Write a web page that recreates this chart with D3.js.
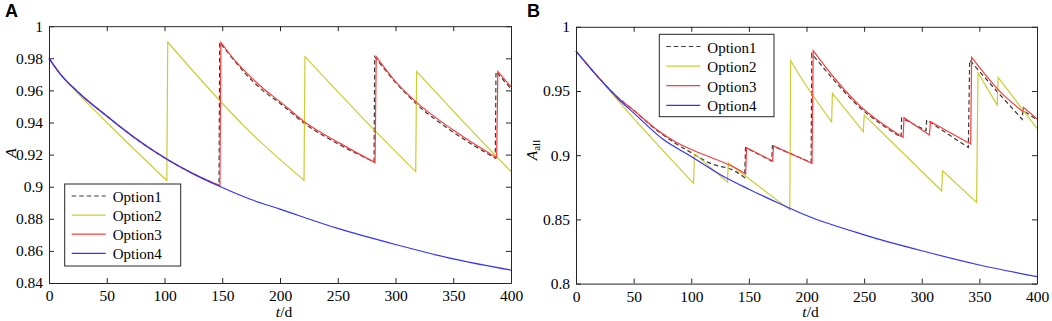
<!DOCTYPE html>
<html>
<head>
<meta charset="utf-8">
<script src="https://cdn.jsdelivr.net/npm/d3@7"></script>
<style>
  body { margin: 0; background: #fff; }
  svg { display: block; }
</style>
</head>
<body>
<script>
// x ticks (days) and y ticks for both panels
var xTicks = [0, 50, 100, 150, 200, 250, 300, 350, 400];
var yTicksA = [0.84, 0.86, 0.88, 0.9, 0.92, 0.94, 0.96, 0.98, 1];
var yTicksB = [0.8, 0.85, 0.9, 0.95, 1];
var seriesNames = ["Option1", "Option2", "Option3", "Option4"];
var seriesColors = ["#3a3a3a", "#cccc33", "#ff3b3b", "#3333ff"];

// panel A, values as [t, A]
var optA4 = [[0,0.980],[10,0.970],[25,0.959],[50,0.944],[75,0.930],[100,0.918],[125,0.908],[150,0.8995],
             [175,0.892],[200,0.886],[250,0.874],[300,0.864],[350,0.855],[400,0.848]];
var optA2 = [[0,0.980],[10,0.970],[20,0.962],[60,0.933],[102,0.9038],[102.8,0.990],[150,0.952],[170,0.937],
             [220.8,0.904],[221.6,0.981],[270,0.944],[317.5,0.9094],[318.3,0.9717],[360,0.9395],[400,0.9094]];
var optA3 = [[0,0.980],[10,0.970],[25,0.959],[50,0.944],[75,0.930],[100,0.918],[125,0.908],[148,0.9006],
             [148.8,0.990],[160,0.9795],[170,0.9717],[185,0.9615],[200,0.953],[221,0.9405],[252,0.927],
             [282.3,0.915],[283.3,0.981],[300,0.9655],[317.5,0.953],[350,0.9353],[387.6,0.918],
             [388.6,0.9717],[400,0.9623]];
var optA1 = [[0,0.980],[10,0.970],[25,0.959],[50,0.944],[75,0.930],[100,0.918],[125,0.908],[147.2,0.9008],
             [147.8,0.990],[160,0.979],[170,0.9705],[185,0.960],[200,0.952],[221,0.9395],[252,0.926],
             [281.4,0.9155],[282,0.981],[300,0.965],[317.5,0.952],[350,0.934],[386.4,0.9178],
             [387,0.9717],[400,0.961]];

// panel B, values as [t, A_all]
var optB4 = [[0,0.981],[20,0.960],[37.6,0.943],[50,0.933],[75,0.9128],[100,0.899],[125,0.885],[150,0.8735],
             [175,0.863],[200,0.853],[250,0.838],[300,0.8256],[350,0.8145],[400,0.8054]];
var optB2 = [[0,0.981],[20,0.960],[35,0.944],[102,0.8781],[102.8,0.901],[131.4,0.8792],
             [132.2,0.894],[185.5,0.8574],[186.3,0.9736],[194.4,0.9617],[221.8,0.926],[222.5,0.9482],
             [249.3,0.9183],[250.1,0.9313],[317.3,0.8723],[318.1,0.8879],[347.6,0.8632],[348.8,0.9642],
             [365.5,0.939],[366.3,0.9606],[400,0.9209]];
var optB3 = [[0,0.981],[20,0.960],[37.6,0.944],[50,0.935],[70,0.920],[85,0.911],[104,0.9029],[115.7,0.8988],
             [138.8,0.8898],[147.2,0.8854],[148,0.9059],[170.6,0.8954],[171.4,0.9072],[204.8,0.8936],[205.8,0.9814],
             [223.3,0.9611],[246.4,0.9383],[265,0.925],[283.8,0.9139],[284.6,0.9292],[306.6,0.9158],
             [307.6,0.9261],[342.4,0.9087],[343.3,0.9762],[368,0.9495],[387.6,0.934],[388.4,0.9373],
             [400,0.9282]];
var optB1 = [[0,0.981],[20,0.960],[37.6,0.944],[50,0.935],[70,0.9195],[85,0.910],[100,0.902],[115.7,0.894],
             [138.8,0.8872],[146.3,0.8826],[147.1,0.9059],[169.8,0.8954],[170.4,0.9073],[204,0.8944],[204.6,0.979],
             [223.3,0.959],[246.4,0.937],[265,0.924],[282,0.914],[282.6,0.929],[303.7,0.9191],
             [304.3,0.9274],[340.4,0.906],[341.6,0.974],[368,0.947],[387.2,0.928],[387.8,0.935],
             [400,0.9274]];

var W = 1052, H = 321;
var serif = "Liberation Serif";

var svg = d3.select("body").append("svg")
    .attr("width", W)
    .attr("height", H);

function drawPanel(opt) {
  var x = d3.scaleLinear().domain([0, 400]).range([opt.left, opt.right]);
  var y = d3.scaleLinear().domain(opt.yDomain).range([opt.bottom, opt.top]);
  var g = svg.append("g");

  var line = d3.line()
      .x(function(d) { return x(d[0]); })
      .y(function(d) { return y(d[1]); })
      .curve(d3.curveMonotoneX);

  // split at the jumps so the smooth curve keeps sharp peaks
  function seriesPath(pts) {
    var pieces = [], cur = [pts[0]];
    for (var i = 1; i < pts.length; i++) {
      if (pts[i][0] - pts[i - 1][0] < 1.5) { pieces.push(cur); cur = [pts[i]]; }
      else cur.push(pts[i]);
    }
    pieces.push(cur);
    return pieces.map(function(p, i) {
      var d = line(p);
      return i ? "L" + d.slice(1) : d;
    }).join("");
  }

  opt.series.forEach(function(s, i) {
    g.append("path")
      .attr("d", seriesPath(s))
      .attr("fill", "none")
      .attr("stroke", seriesColors[i])
      .attr("stroke-width", 1.2)
      .attr("stroke-dasharray", i === 0 ? "4.5,3" : null);
  });

  // axes, ticks pointing inwards on all four sides
  var fmt = function(d) { return String(+d.toFixed(2)); };
  var ax = [
    [d3.axisBottom(x).tickValues(xTicks).tickFormat(fmt).tickPadding(7), "translate(0," + opt.bottom + ")"],
    [d3.axisTop(x).tickValues(xTicks).tickFormat(""), "translate(0," + opt.top + ")"],
    [d3.axisLeft(y).tickValues(opt.yTicks).tickFormat(fmt).tickPadding(6), "translate(" + opt.left + ",0)"],
    [d3.axisRight(y).tickValues(opt.yTicks).tickFormat(""), "translate(" + opt.right + ",0)"]
  ];
  ax.forEach(function(a) {
    var ag = g.append("g")
        .attr("transform", a[1])
        .call(a[0].tickSizeInner(-5).tickSizeOuter(0));
    ag.attr("font-family", serif).attr("font-size", 15.5);
    ag.select(".domain").attr("stroke", "#262626");
    ag.selectAll(".tick line").attr("stroke", "#262626");
    ag.selectAll("text")
      .attr("font-family", serif)
      .attr("font-size", 15.5)
      .attr("fill", "#000");
  });

  // legend
  var lg = g.append("g");
  lg.append("rect")
    .attr("x", opt.legend.x).attr("y", opt.legend.y)
    .attr("width", opt.legend.w).attr("height", opt.legend.h)
    .attr("fill", "#fff")
    .attr("stroke", "#262626");
  seriesNames.forEach(function(name, i) {
    var ly = opt.legend.y0 + i * opt.legend.step;
    lg.append("line")
      .attr("x1", opt.legend.x + 7).attr("x2", opt.legend.x + 41)
      .attr("y1", ly).attr("y2", ly)
      .attr("stroke", seriesColors[i])
      .attr("stroke-width", 1.2)
      .attr("stroke-dasharray", i === 0 ? "4.5,3" : null);
    lg.append("text")
      .attr("x", opt.legend.x + 48)
      .attr("y", ly + 6)
      .attr("font-family", serif)
      .attr("font-size", 15)
      .text(name);
  });

  // x label t/d
  var xl = g.append("text")
      .attr("x", (opt.left + opt.right) / 2 + 4)
      .attr("y", 317)
      .attr("text-anchor", "middle")
      .attr("font-family", serif)
      .attr("font-size", 15.5);
  xl.append("tspan").attr("font-style", "italic").text("t");
  xl.append("tspan").text("/d");

  // y label
  var yl = g.append("text")
      .attr("transform", "translate(" + opt.yLabelX + "," + opt.yLabelY + ") rotate(-90)")
      .attr("text-anchor", "middle")
      .attr("font-family", serif)
      .attr("font-size", 15.5);
  yl.append("tspan").attr("font-style", "italic").text("A");
  if (opt.sub) {
    yl.append("tspan").attr("font-size", 11).attr("dy", 3).text(opt.sub);
  }

  // panel letter
  g.append("text")
    .attr("x", opt.letterX)
    .attr("y", 17)
    .attr("font-family", "Liberation Sans")
    .attr("font-weight", "bold")
    .attr("font-size", 18)
    .text(opt.letter);
}

drawPanel({
  left: 49, right: 511, top: 26.2, bottom: 283,
  yDomain: [0.84, 1], yTicks: yTicksA,
  series: [optA1, optA2, optA3, optA4],
  legend: { x: 64.7, y: 184, w: 116, h: 82, y0: 196, step: 19.1 },
  yLabelX: 15.5, yLabelY: 153, sub: null,
  letter: "A", letterX: 5
});

drawPanel({
  left: 576, right: 1037, top: 26.8, bottom: 283.6,
  yDomain: [0.8, 1], yTicks: yTicksB,
  series: [optB1, optB2, optB3, optB4],
  legend: { x: 659.3, y: 34.3, w: 114.7, h: 82.4, y0: 46.5, step: 19.6 },
  yLabelX: 537, yLabelY: 150, sub: "all",
  letter: "B", letterX: 527
});
</script>
</body>
</html>
